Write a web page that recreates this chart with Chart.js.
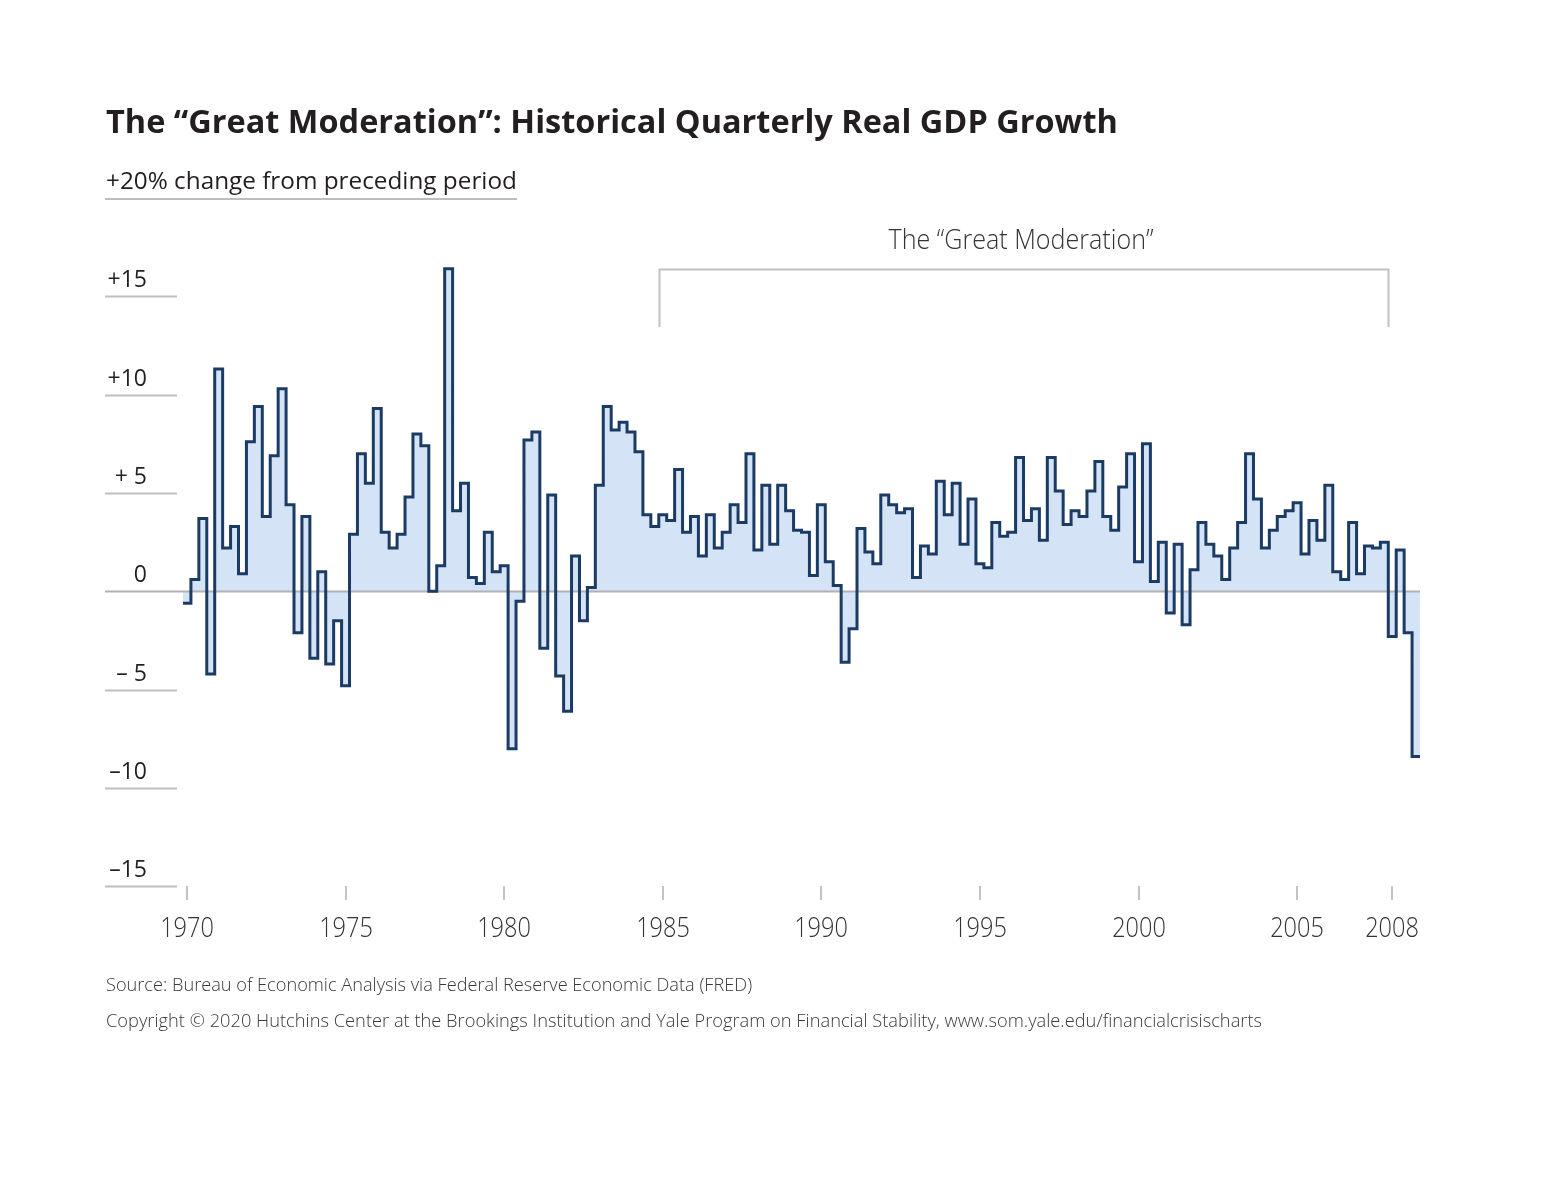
<!DOCTYPE html>
<html>
<head>
<meta charset="utf-8">
<script src="https://cdn.jsdelivr.net/npm/chart.js@4.4.0/dist/chart.umd.min.js"></script>
<style>
body{margin:0;background:#fff;}
#wrap{position:relative;width:1553px;height:1200px;overflow:hidden;background:#fff;}
#c{position:absolute;left:0;top:0;}
.t{position:absolute;left:106px;white-space:nowrap;transform-origin:0 50%;font-family:"Open Sans",Lato,sans-serif;color:#231f20;}
#title{top:100px;font-size:32px;font-weight:700;line-height:42px;}
#sub{top:165px;font-size:23px;font-weight:400;line-height:30px;}
#subline{position:absolute;left:105px;top:198px;width:412px;height:2px;background:#bdbdbd;}
#src{top:972px;font-size:18px;font-weight:300;line-height:24px;color:#3a3a3a;}
#copy{top:1008px;font-size:18px;font-weight:300;line-height:24px;color:#3a3a3a;}
</style>
</head>
<body>
<div id="wrap">
<canvas id="c" width="1553" height="1200"></canvas>
<div class="t" id="title" data-w="1012">The “Great Moderation”: Historical Quarterly Real GDP Growth</div>
<div class="t" id="sub" data-w="411">+20% change from preceding period</div>
<div id="subline"></div>
<div class="t" id="src" data-w="646">Source: Bureau of Economic Analysis via Federal Reserve Economic Data (FRED)</div>
<div class="t" id="copy" data-w="1156">Copyright © 2020 Hutchins Center at the Brookings Institution and Yale Program on Financial Stability, www.som.yale.edu/financialcrisischarts</div>
</div>
<script>
// 분기별 실질 GDP 성장률 (1970 Q1 ~ 2008 Q4)
var startYear = 1970;
var growth = [
	-0.6, 0.6, 3.7, -4.2,
	11.3, 2.2, 3.3, 0.9,
	7.6, 9.4, 3.8, 6.9,
	10.3, 4.4, -2.1, 3.8,
	-3.4, 1.0, -3.7, -1.5,
	-4.8, 2.9, 7.0, 5.5,
	9.3, 3.0, 2.2, 2.9,
	4.8, 8.0, 7.4, 0.0,
	1.3, 16.4, 4.1, 5.5,
	0.7, 0.4, 3.0, 1.0,
	1.3, -8.0, -0.5, 7.7,
	8.1, -2.9, 4.9, -4.3,
	-6.1, 1.8, -1.5, 0.2,
	5.4, 9.4, 8.2, 8.6,
	8.1, 7.1, 3.9, 3.3,
	3.9, 3.6, 6.2, 3.0,
	3.8, 1.8, 3.9, 2.2,
	3.0, 4.4, 3.5, 7.0,
	2.1, 5.4, 2.4, 5.4,
	4.1, 3.1, 3.0, 0.8,
	4.4, 1.5, 0.3, -3.6,
	-1.9, 3.2, 2.0, 1.4,
	4.9, 4.4, 4.0, 4.2,
	0.7, 2.3, 1.9, 5.6,
	3.9, 5.5, 2.4, 4.7,
	1.4, 1.2, 3.5, 2.8,
	3.0, 6.8, 3.6, 4.2,
	2.6, 6.8, 5.1, 3.4,
	4.1, 3.8, 5.1, 6.6,
	3.8, 3.1, 5.3, 7.0,
	1.5, 7.5, 0.5, 2.5,
	-1.1, 2.4, -1.7, 1.1,
	3.5, 2.4, 1.8, 0.6,
	2.2, 3.5, 7.0, 4.7,
	2.2, 3.1, 3.8, 4.1,
	4.5, 1.9, 3.6, 2.6,
	5.4, 1.0, 0.6, 3.5,
	0.9, 2.3, 2.2, 2.5,
	-2.3, 2.1, -2.1, -8.4
];
var yTicks = [15, 10, 5, 0, -5, -10, -15];
var yTickLabels = ['+15', '+10', '+ 5', '0', '\u2013 5', '\u201310', '\u201315'];
var xTicks = [1970, 1975, 1980, 1985, 1990, 1995, 2000, 2005, 2008];
var bracketRange = [1985, 2008];
var bracketLabel = 'The \u201cGreat Moderation\u201d';

// 분기 시작점 기준 계단 좌표
var points = growth.map(function(v, i){
	return {x: startYear + i / 4, y: v};
});
points.push({x: startYear + growth.length / 4, y: growth[growth.length - 1]});

function scaledText(ctx, text, x, y, sx, align){
	ctx.save();
	ctx.translate(x, y);
	ctx.scale(sx, 1);
	ctx.textAlign = align;
	ctx.fillText(text, 0, 0);
	ctx.restore();
}

var decor = {
	id: 'decor',
	beforeDatasetsDraw: function(chart){
		var ctx = chart.ctx, ys = chart.scales.y, a = chart.chartArea;
		ctx.save();
		ctx.lineWidth = 2;
		yTicks.forEach(function(t){
			var py = Math.round(ys.getPixelForValue(t)) + 0.5;
			ctx.strokeStyle = t === 0 ? '#b2b2b2' : '#c0c0c0';
			ctx.beginPath();
			ctx.moveTo(105, py);
			ctx.lineTo(t === 0 ? a.right : 177, py);
			ctx.stroke();
		});
		ctx.restore();
	},
	afterDraw: function(chart){
		var ctx = chart.ctx, xs = chart.scales.x, ys = chart.scales.y;
		ctx.save();
		// y 라벨
		ctx.fillStyle = '#231f20';
		ctx.font = '400 23px "Open Sans", Lato, sans-serif';
		ctx.textBaseline = 'alphabetic';
		yTicks.forEach(function(t, i){
			var py = ys.getPixelForValue(t);
			scaledText(ctx, yTickLabels[i], 147, py - 9, 1, 'right');
		});
		// x 눈금
		ctx.strokeStyle = '#c4c4c4';
		ctx.lineWidth = 2;
		ctx.font = '300 28px "Open Sans", Lato, sans-serif';
		ctx.fillStyle = '#333';
		xTicks.forEach(function(yr){
			var px = Math.round(xs.getPixelForValue(yr + 0.125));
			ctx.beginPath();
			ctx.moveTo(px, 886);
			ctx.lineTo(px, 900);
			ctx.stroke();
			scaledText(ctx, String(yr), px, 937, 0.84, 'center');
		});
		// Great Moderation 괄호
		var bx0 = Math.round(xs.getPixelForValue(bracketRange[0])) + 0.5;
		var bx1 = Math.round(xs.getPixelForValue(bracketRange[1])) + 0.5;
		ctx.strokeStyle = '#c2c2c2';
		ctx.beginPath();
		ctx.moveTo(bx0, 327);
		ctx.lineTo(bx0, 269.5);
		ctx.lineTo(bx1, 269.5);
		ctx.lineTo(bx1, 327);
		ctx.stroke();
		ctx.font = '300 27px "Open Sans", Lato, sans-serif';
		var w = ctx.measureText(bracketLabel).width;
		scaledText(ctx, bracketLabel, 1021, 249, 265 / w, 'center');
		ctx.restore();
	}
};

function fitText(){
	var els = document.querySelectorAll('[data-w]');
	for(var i = 0; i < els.length; i++){
		var el = els[i];
		el.style.transform = 'scaleX(' + (parseFloat(el.getAttribute('data-w')) / el.offsetWidth) + ')';
	}
}

function drawChart(){
	var ctx = document.getElementById('c').getContext('2d');
	new Chart(ctx, {
		type: 'line',
		data: {
			datasets: [{
				data: points,
				stepped: true,
				fill: 'origin',
				backgroundColor: '#d4e3f5',
				borderColor: '#1c3b64',
				borderWidth: 3,
				borderJoinStyle: 'miter',
				borderCapStyle: 'butt',
				pointRadius: 0,
				tension: 0
			}]
		},
		options: {
			responsive: false,
			animation: false,
			events: [],
			layout: {padding: {left: 105, right: 133, top: 257, bottom: 294}},
			scales: {
				x: {type: 'linear', min: 1967.541, max: 2009, display: false},
				y: {min: -16, max: 17, display: false}
			},
			plugins: {
				legend: {display: false},
				tooltip: {enabled: false},
				filler: {drawTime: 'beforeDatasetsDraw'}
			}
		},
		plugins: [decor]
	});
}

document.fonts.ready.then(function(){
	fitText();
	drawChart();
});
</script>
</body>
</html>
